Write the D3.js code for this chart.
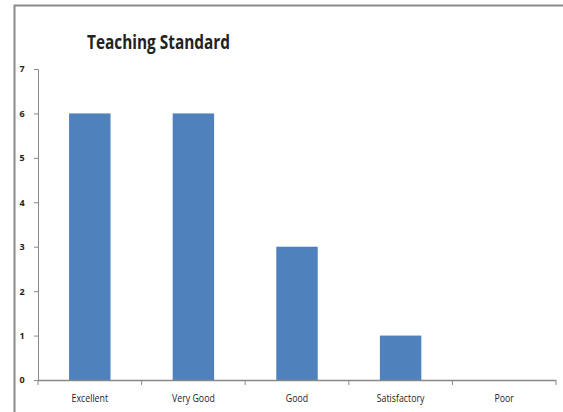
<!DOCTYPE html>
<html>
<head>
<meta charset="utf-8">
<script src="https://cdn.jsdelivr.net/npm/d3@7"></script>
<style>
  body { margin: 0; background: #fff; }
  svg { display: block; }
  text { font-family: "Open Sans", "Liberation Sans", Arial, sans-serif; fill: #222; }
</style>
</head>
<body>
<script>
var categories = ['Excellent', 'Very Good', 'Good', 'Satisfactory', 'Poor'];
var values = [6, 6, 3, 1, 0];
var yTicks = [0, 1, 2, 3, 4, 5, 6, 7];

var w = 563,
    h = 412;

var margin = {top: 69, left: 38, right: 7, bottom: 32};

var svg = d3.select('body')
    .append('svg')
    .attr('width', w)
    .attr('height', h);

// frame (only top and left edges show)
svg.append('path')
    .attr('d', 'M14.5,' + h + 'V5.5H' + w)
    .attr('fill', 'none')
    .attr('stroke', '#8a8a8a')
    .attr('stroke-width', 2);

var x = d3.scaleBand()
    .domain(categories)
    .range([margin.left, w - margin.right])
    .paddingInner(0.6)
    .paddingOuter(0.3);

var y = d3.scaleLinear()
    .domain([0, 7])
    .range([h - margin.bottom, margin.top]);

// bars
svg.selectAll('rect.bar')
    .data(values)
    .enter()
    .append('rect')
    .attr('class', 'bar')
    .attr('x', function(d, i){ return x(categories[i]); })
    .attr('width', x.bandwidth())
    .attr('y', function(d){ return y(d); })
    .attr('height', function(d){ return y(0) - y(d); })
    .attr('fill', '#4f81bd');

// y axis
var yAxis = svg.append('g')
    .attr('transform', 'translate(' + margin.left + ',0)')
    .call(d3.axisLeft(y).tickValues(yTicks).tickFormat(d3.format('d')).tickSize(4).tickPadding(12));
yAxis.select('.domain').attr('stroke', '#888');
yAxis.selectAll('.tick line').attr('stroke', '#888');
yAxis.selectAll('text')
    .attr('font-size', 9)
    .attr('font-weight', 'bold')
    .attr('text-anchor', 'middle')
    .attr('fill', '#333');

// x axis: line + ticks at category boundaries
var boundaries = d3.range(categories.length + 1).map(function(i){
    return margin.left + i * (w - margin.right - margin.left) / categories.length;
});
var xg = svg.append('g');
xg.append('line')
    .attr('x1', margin.left).attr('x2', w - margin.right)
    .attr('y1', y(0) + 0.5).attr('y2', y(0) + 0.5)
    .attr('stroke', '#888').attr('stroke-width', 1.5);
xg.selectAll('line.tick')
    .data(boundaries)
    .enter()
    .append('line')
    .attr('class', 'tick')
    .attr('x1', function(d){ return d; }).attr('x2', function(d){ return d; })
    .attr('y1', y(0)).attr('y2', y(0) + 5)
    .attr('stroke', '#888');
xg.selectAll('text')
    .data(categories)
    .enter()
    .append('text')
    .attr('transform', function(d){
        return 'translate(' + (x(d) + x.bandwidth() / 2) + ',' + (y(0) + 22) + ') scale(0.88,1)';
    })
    .attr('text-anchor', 'middle')
    .attr('font-size', 10)
    .attr('fill', '#333')
    .text(function(d){ return d; });

// title, condensed to match the narrow original font
svg.append('text')
    .attr('x', 87)
    .attr('y', 49)
    .attr('font-size', 19)
    .attr('font-weight', 'bold')
    .attr('fill', '#111')
    .attr('textLength', 143)
    .attr('lengthAdjust', 'spacingAndGlyphs')
    .text('Teaching Standard');
</script>
</body>
</html>
